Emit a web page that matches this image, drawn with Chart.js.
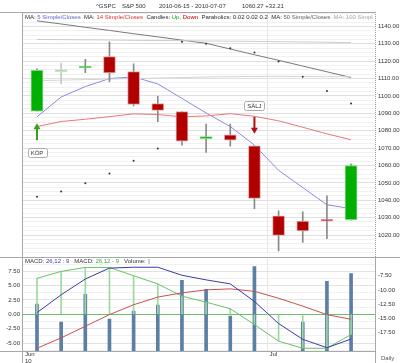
<!DOCTYPE html>
<html>
<head>
<meta charset="utf-8">
<script src="https://cdn.jsdelivr.net/npm/chart.js@4.4.1/dist/chart.umd.min.js"></script>
<style>
  body { margin: 0; background: #fff; }
  #wrap { position: relative; width: 400px; height: 363px; overflow: hidden;
          font-family: "Liberation Sans", Arial, sans-serif; font-size: 6px; color: #333; }
  .t { position: absolute; white-space: pre; line-height: 1; }
  .ln { position: absolute; background: #a8a8a8; }
  canvas { position: absolute; left: 0; }
</style>
</head>
<body>
<div id="wrap">
  <canvas id="main" width="400" height="259" style="top:0"></canvas>
  <canvas id="macd" width="400" height="111" style="top:252px"></canvas>

  <!-- cadre -->
  <div class="ln" style="left:0;top:12px;width:375px;height:1px"></div>
  <div class="ln" style="left:0;top:257px;width:400px;height:1px"></div>
  <div class="ln" style="left:0;top:351px;width:375px;height:1px"></div>
  <div class="ln" style="left:22px;top:12px;width:1px;height:351px"></div>
  <div style="position:absolute;left:375px;top:12px;height:245px;border-left:1px dotted #999"></div>
  <div class="ln" style="left:375px;top:257px;width:1px;height:106px"></div>

  <!-- titre + legendes -->
  <span class="t" style="left:96px;top:2.5px">^GSPC</span>
  <span class="t" style="left:122px;top:2.5px">S&amp;P 500</span>
  <span class="t" style="left:159px;top:2.5px">2010-06-15 - 2010-07-07</span>
  <span class="t" style="left:242px;top:2.5px">1060.27 +32.21</span>

  <div class="t" style="left:25px;top:13.5px;width:348px;overflow:hidden">MA: <span style="color:#6a6ad8">5 Simple/Closes</span>  MA: <span style="color:#e03a3a">14 Simple/Closes</span>  Candles: <span style="color:#22aa22">Up,</span> <span style="color:#c00000">Down</span>  Parabolics: 0.02 0.02 0.2  MA: <span style="color:#666">50 Simple/Closes</span>  <span style="color:#aaa">MA: 100 Simple/Closes</span></div>

  <div class="t" style="left:25px;top:258px">MACD: <span style="color:#3a3aa8">26,12 : 9</span>   MACD: <span style="color:#44aa44">26,12 - 9</span>   Volume: <span style="color:#8fa6c4">||</span></div>

  <span class="t" style="left:381px;top:355px;color:#555">Daily</span>
</div>

<script>
// 14 seances affichees
const days = ['2010-06-15', '2010-06-16', '2010-06-18', '2010-06-21', '2010-06-22', '2010-06-23', '2010-06-24',
              '2010-06-25', '2010-06-28', '2010-06-29', '2010-07-01', '2010-07-02', '2010-07-06', '2010-07-07'];

const open  = [1091.3, 1114.0, 1116.1, 1122.6, 1114.0, 1095.6, 1091.0, 1075.4, 1077.7, 1071.3, 1031.0, 1028.0, 1028.2, 1028.8];
const high  = [1115.6, 1118.9, 1121.0, 1131.2, 1118.5, 1099.8, 1091.0, 1083.8, 1083.8, 1071.3, 1033.9, 1033.4, 1042.6, 1061.0];
const low   = [1091.2, 1106.9, 1113.4, 1108.2, 1094.2, 1085.2, 1071.7, 1067.5, 1071.1, 1035.2, 1010.8, 1015.8, 1017.9, 1028.5];
const close = [1114.7, 1114.6, 1117.2, 1113.3, 1095.1, 1091.7, 1074.0, 1076.7, 1074.5, 1041.1, 1019.8, 1022.4, 1028.0, 1060.0];

const ma5   = [1088.0, 1099.4, 1105.4, 1110.0, 1111.0, 1106.9, 1098.6, 1090.2, 1082.4, 1071.7, 1057.2, 1047.3, 1037.4, 1035.2];
const ma14  = [1082.4, 1085.3, 1086.6, 1088.1, 1089.7, 1089.3, 1088.0, 1088.5, 1089.8, 1088.3, 1085.7, 1082.0, 1078.2, 1074.8];
const ma50  = [1143.2, 1141.4, 1139.5, 1137.7, 1135.8, 1134.0, 1132.1, 1130.3, 1127.0, 1123.7, 1120.5, 1117.2, 1113.9, 1110.6];
const ma100 = [1132.5, 1132.4, 1132.3, 1132.2, 1132.0, 1131.9, 1131.8, 1131.6, 1131.5, 1131.4, 1131.2, 1131.1, 1130.9, 1130.7];
const ma200 = [1108.8, 1109.1, 1109.4, 1109.7, 1110.0, 1110.3, 1110.6, 1110.9, 1111.1, 1111.2, 1111.3, 1111.2, 1111.1, 1111.0];
const sar   = [1042.0, 1045.0, 1049.8, 1055.4, 1062.7, 1069.8, 1131.2, 1130.1, 1127.5, 1125.0, 1119.8, 1111.0, 1102.9, 1095.6];

const macdLine = [0.3, 3.4, 6.15, 8.05, 8.2, 8.2, 6.8, 6.0, 5.3, 2.25, -1.6, -4.35, -5.8, -4.3];
const macdRed  = [-5.9, -4.1, -2.07, -0.05, 1.67, 3.0, 3.74, 4.26, 4.43, 4.0, 2.8, 1.43, -0.05, -0.86];
const macdGrn  = [6.26, 7.47, 8.16, 8.16, 6.72, 5.29, 3.16, 2.12, 0.98, -1.78, -4.66, -5.9, -5.9, -3.5];
const volume   = [4.8, 3.0, 5.8, 3.3, 4.1, 4.7, 7.2, 6.3, 3.6, 8.6, null, 3.0, 7.1, 7.9];

const priceTicks = [1140, 1130, 1120, 1110, 1100, 1090, 1080, 1070, 1060, 1050, 1040, 1030, 1020];
const macdTicks  = [7.5, 5, 2.5, 0, -2.5, -5];
const rightTicks = [-7.5, -10, -12.5, -15, -17.5];

const signals = [{ i: 0, text: 'KÖP', buy: true }, { i: 9, text: 'SÄLJ', buy: false }];
const monthStarts = [{ at: -0.62, text: 'Jun', sub: '10' }, { at: 9.5, text: 'Jul' }];

const X_MIN = -0.62, X_MAX = 13.99;
const FONT = { family: '"Liberation Sans", Arial, sans-serif', size: 6 };
Chart.defaults.font = FONT;

const pts = arr => arr.map((v, i) => ({ x: i, y: v }));
const up = i => close[i] >= open[i];

function lineDs(data, color, order) {
	return { type: 'line', data: pts(data), borderColor: color, borderWidth: 1,
		pointRadius: 0, tension: 0, order: order, yAxisID: 'y' };
}

// traits verticaux debut de mois + fleches
const markPlugin = {
	id: 'marks',
	beforeDatasetsDraw(chart) {
		const { ctx, chartArea: a, scales } = chart;
		ctx.save();
		ctx.strokeStyle = '#e6e6e6';
		ctx.lineWidth = 1;
		const px = Math.round(scales.x.getPixelForValue(monthStarts[1].at)) + 0.5;
		ctx.beginPath(); ctx.moveTo(px, a.top); ctx.lineTo(px, a.bottom); ctx.stroke();
		ctx.restore();
	},
	afterDatasetsDraw(chart) {
		const { ctx, scales } = chart;
		const opts = chart.options.plugins.marks;
		if (opts.signals) {
			signals.forEach(s => {
				const x = scales.x.getPixelForValue(s.i);
				const col = s.buy ? '#3aa020' : '#b01010';
				const ref = scales.y.getPixelForValue(s.buy ? low[s.i] : high[s.i]);
				const d = s.buy ? 1 : -1;
				const tip = ref + d * 12, tail = ref + d * 29;
				ctx.save();
				ctx.fillStyle = col;
				ctx.fillRect(x - 1, Math.min(tip, tail) + (s.buy ? 5 : 0), 2, 12);
				ctx.beginPath();
				ctx.moveTo(x, tip);
				ctx.lineTo(x - 3.5, tip + d * 6);
				ctx.lineTo(x + 3.5, tip + d * 6);
				ctx.closePath(); ctx.fill();
				// etiquette
				ctx.font = '6px "Liberation Sans", Arial, sans-serif';
				const w = ctx.measureText(s.text).width + 6, h = 9;
				const by = s.buy ? ref + 37 : ref - 36 - h;
				const bx = x - w / 2;
				ctx.fillStyle = '#fff';
				ctx.strokeStyle = '#aaa';
				ctx.beginPath();
				ctx.roundRect(Math.round(bx) + 0.5, Math.round(by) + 0.5, Math.round(w), h, 2);
				ctx.fill(); ctx.stroke();
				ctx.fillStyle = '#333';
				ctx.textAlign = 'center'; ctx.textBaseline = 'middle';
				ctx.fillText(s.text, x, by + h / 2 + 1);
				ctx.restore();
			});
		}
		if (opts.months) {
			ctx.save();
			ctx.font = '6px "Liberation Sans", Arial, sans-serif';
			ctx.fillStyle = '#333';
			ctx.textBaseline = 'middle';
			const top = chart.chartArea.bottom;
			monthStarts.forEach(m => {
				const x = scales.x.getPixelForValue(m.at) + 3;
				ctx.fillText(m.text, x, top + 3);
				if (m.sub) ctx.fillText(m.sub, x, top + 10);
			});
			ctx.restore();
		}
	}
};

// =====================================
// graphique principal (bougies)
// =====================================
new Chart(document.getElementById('main'), {
	type: 'bar',
	data: {
		datasets: [
			lineDs(ma200, '#d4d4d4', 20),
			lineDs(ma100, '#cccccc', 20),
			lineDs(ma50, '#7a7a7a', 20),
			lineDs(ma14, '#e87878', 20),
			lineDs(ma5, '#8a8ae6', 20),
			{ // meches
				data: days.map((d, i) => ({ x: i, y: [low[i], high[i]] })),
				backgroundColor: days.map((d, i) => i === 1 ? '#c8c8c8' : '#8a8a8a'),
				barThickness: 1, grouped: false, order: 10, yAxisID: 'y'
			},
			{ // corps
				data: days.map((d, i) => ({ x: i, y: [open[i], close[i]] })),
				backgroundColor: days.map((d, i) => i === 1 ? '#9ad49a' : (up(i) ? '#00b000' : '#b00000')),
				borderColor: days.map((d, i) => i === 1 ? '#c4e8c4' : (up(i) ? '#7fd47f' : '#e4a4a4')),
				borderWidth: 1, borderSkipped: false, minBarLength: 2,
				barThickness: 12, grouped: false, order: 5, yAxisID: 'y'
			},
			{ // parabolic SAR
				type: 'line', data: pts(sar), showLine: false,
				pointRadius: 1, pointBackgroundColor: '#333', pointBorderWidth: 0, order: 1, yAxisID: 'y'
			}
		]
	},
	options: {
		responsive: false, animation: false, events: [],
		layout: { padding: { left: 22, right: 0, top: 12, bottom: 1 } },
		plugins: { legend: { display: false }, tooltip: { enabled: false }, marks: { signals: true } },
		scales: {
			x: { type: 'linear', min: X_MIN, max: X_MAX, offset: false, display: false },
			y: {
				position: 'right', min: 1010, max: 1148.3,
				afterFit(s) { s.width = 25; },
				afterBuildTicks(s) {
					const t = [];
					for (let v = 1010; v <= 1147.5; v += 2.5) t.push({ value: v });
					s.ticks = t;
				},
				border: { display: false },
				grid: {
					drawTicks: false,
					color: c => priceTicks.includes(c.tick.value) ? '#e0e0e0' : '#f1f1f1'
				},
				ticks: {
					autoSkip: false, padding: 3, color: '#333',
					callback: v => priceTicks.includes(v) ? v.toFixed(2) : ''
				}
			}
		}
	},
	plugins: [markPlugin]
});

// =====================================
// MACD + volume
// =====================================
new Chart(document.getElementById('macd'), {
	type: 'bar',
	data: {
		datasets: [
			{ // volume
				data: volume.map((v, i) => ({ x: i, y: v })),
				backgroundColor: '#5b7fa5', barThickness: 3, grouped: false, order: 10, yAxisID: 'yv'
			},
			{ // lignes verticales vertes
				data: macdGrn.map((v, i) => ({ x: i, y: [0, v] })),
				backgroundColor: '#9ed89e', barThickness: 1, grouped: false, order: 8, yAxisID: 'y'
			},
			{ type: 'line', data: pts(macdGrn), borderColor: '#66c266', borderWidth: 1, pointRadius: 0, order: 3, yAxisID: 'y' },
			{ type: 'line', data: pts(macdRed), borderColor: '#c85050', borderWidth: 1, pointRadius: 0, order: 2, yAxisID: 'y' },
			{ type: 'line', data: pts(macdLine), borderColor: '#3a3aa8', borderWidth: 1, pointRadius: 0, order: 1, yAxisID: 'y' }
		]
	},
	options: {
		responsive: false, animation: false, events: [],
		layout: { padding: { left: 0, right: 0, top: 5.7, bottom: 11.3 } },
		plugins: { legend: { display: false }, tooltip: { enabled: false }, marks: { months: true } },
		scales: {
			x: { type: 'linear', min: X_MIN, max: X_MAX, offset: false, display: false },
			y: {
				position: 'left', min: -6.5, max: 9.7,
				afterFit(s) { s.width = 22; },
				afterBuildTicks(s) {
					const t = [];
					for (let v = -6.25; v <= 9.5; v += 1.25) t.push({ value: v });
					s.ticks = t;
				},
				border: { display: false },
				grid: {
					drawTicks: false,
					color: c => c.tick.value === 0 ? '#6cc06c' : (macdTicks.includes(c.tick.value) ? '#e2e2e2' : '#f1f1f1')
				},
				ticks: {
					autoSkip: false, padding: 2, color: '#333',
					callback: v => macdTicks.includes(v) ? v.toFixed(2) : ''
				}
			},
			yr: {
				position: 'right', min: -20.9, max: -4.48,
				afterFit(s) { s.width = 25; },
				afterBuildTicks(s) { s.ticks = rightTicks.map(v => ({ value: v })); },
				border: { display: false },
				grid: { display: false, drawTicks: false },
				ticks: { autoSkip: false, padding: 3, color: '#333', callback: v => v.toFixed(2) }
			},
			yv: { display: false, min: 0, max: 9.4 }
		}
	},
	plugins: [markPlugin]
});
</script>
</body>
</html>
